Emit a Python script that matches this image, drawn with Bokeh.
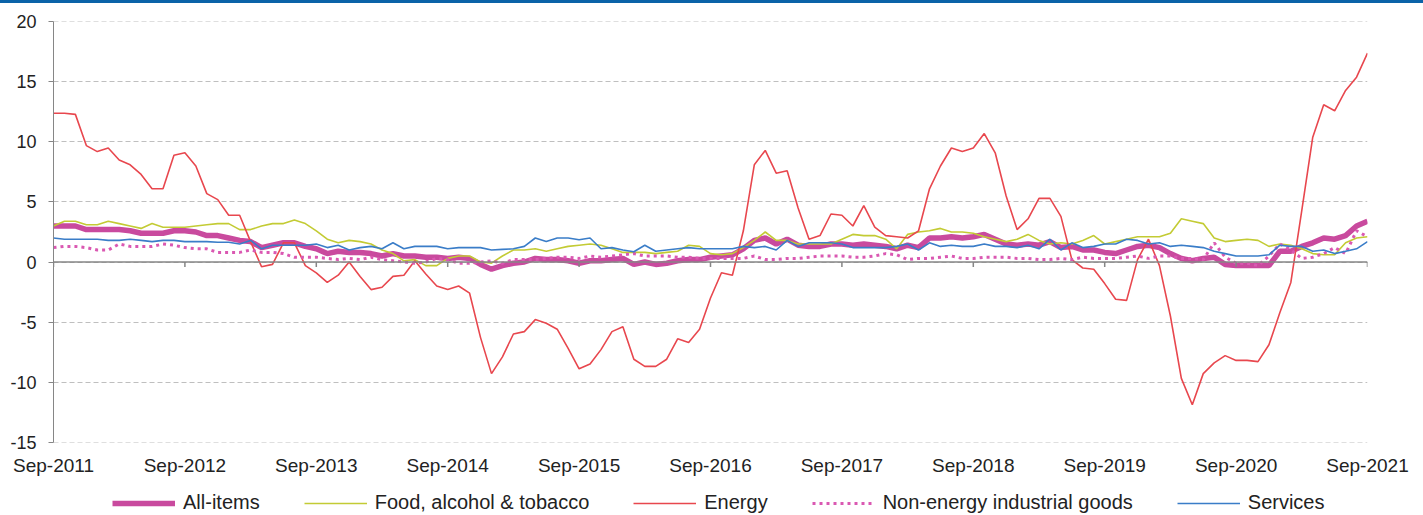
from bokeh.plotting import figure
from bokeh.models import Range1d, FixedTicker, Legend, LegendItem, Span, Div
from bokeh.layouts import column
from bokeh.embed import file_html
from bokeh.resources import INLINE

# ---------------- data (annual rate of change, %) ----------------
tick_labels = ["Sep-2011", "Sep-2012", "Sep-2013", "Sep-2014", "Sep-2015", "Sep-2016",
               "Sep-2017", "Sep-2018", "Sep-2019", "Sep-2020", "Sep-2021"]

series_names = ["All-items", "Food, alcohol & tobacco", "Energy",
                "Non-energy industrial goods", "Services"]

all_items = [3.0, 3.0, 3.0, 2.7,
             2.7, 2.7, 2.7, 2.6, 2.4, 2.4, 2.4, 2.6, 2.6, 2.5, 2.2, 2.2,
             2.0, 1.8, 1.7, 1.2, 1.4, 1.6, 1.6, 1.3, 1.1, 0.7, 0.9, 0.8,
             0.8, 0.7, 0.5, 0.7, 0.5, 0.5, 0.4, 0.4, 0.3, 0.4, 0.3, -0.2,
             -0.6, -0.3, -0.1, 0.0, 0.3, 0.2, 0.2, 0.1, -0.1, 0.1, 0.1, 0.2,
             0.3, -0.2, 0.0, -0.2, -0.1, 0.1, 0.2, 0.2, 0.4, 0.5, 0.6, 1.1,
             1.8, 2.0, 1.5, 1.9, 1.4, 1.3, 1.3, 1.5, 1.5, 1.4, 1.5, 1.4,
             1.3, 1.1, 1.4, 1.2, 2.0, 2.0, 2.1, 2.0, 2.1, 2.3, 1.9, 1.5,
             1.4, 1.5, 1.4, 1.7, 1.2, 1.3, 1.0, 1.0, 0.8, 0.7, 1.0, 1.3,
             1.4, 1.2, 0.7, 0.3, 0.1, 0.3, 0.4, -0.2, -0.3, -0.3, -0.3, -0.3,
             0.9, 0.9, 1.3, 1.6, 2.0, 1.9, 2.2, 3.0, 3.4]

food = [3.0, 3.4, 3.4, 3.1,
        3.1, 3.4, 3.2, 3.0, 2.8, 3.2, 2.9, 2.9, 2.9, 3.0, 3.1, 3.2,
        3.2, 2.7, 2.7, 3.0, 3.2, 3.2, 3.5, 3.2, 2.6, 1.9, 1.6, 1.8,
        1.7, 1.5, 1.0, 0.7, 0.1, 0.2, -0.3, -0.3, 0.3, 0.5, 0.5, 0.0,
        -0.1, 0.5, 1.0, 1.0, 1.1, 0.9, 1.1, 1.3, 1.4, 1.5, 1.4, 1.1,
        0.8, 0.8, 0.8, 0.7, 0.8, 0.9, 1.4, 1.3, 0.7, 0.6, 0.7, 1.2,
        1.8, 2.5, 1.8, 1.8, 1.5, 1.5, 1.5, 1.5, 1.9, 2.3, 2.2, 2.2,
        1.9, 1.1, 2.3, 2.5, 2.6, 2.8, 2.5, 2.5, 2.4, 2.1, 1.9, 1.7,
        1.9, 2.3, 1.8, 1.5, 1.6, 1.5, 1.8, 2.2, 1.5, 1.7, 1.9, 2.1,
        2.1, 2.1, 2.4, 3.6, 3.4, 3.2, 2.0, 1.7, 1.8, 1.9, 1.8, 1.3,
        1.5, 1.4, 1.1, 0.7, 0.6, 0.6, 1.6, 2.0, 2.1]

energy = [12.4, 12.4, 12.3, 9.7,
          9.2, 9.5, 8.5, 8.1, 7.3, 6.1, 6.1, 8.9, 9.1, 8.0, 5.7, 5.2,
          3.9, 3.9, 1.7, -0.4, -0.2, 1.6, 1.6, -0.3, -0.9, -1.7, -1.1, 0.0,
          -1.2, -2.3, -2.1, -1.2, -1.1, 0.1, -1.0, -2.0, -2.3, -2.0, -2.6, -6.3,
          -9.3, -7.9, -6.0, -5.8, -4.8, -5.1, -5.6, -7.2, -8.9, -8.5, -7.3, -5.8,
          -5.4, -8.1, -8.7, -8.7, -8.1, -6.4, -6.7, -5.6, -3.0, -0.9, -1.1, 2.6,
          8.1, 9.3, 7.4, 7.6, 4.5, 1.9, 2.2, 4.0, 3.9, 3.0, 4.7, 2.9,
          2.2, 2.1, 2.0, 2.6, 6.1, 8.0, 9.5, 9.2, 9.5, 10.7, 9.1, 5.5,
          2.7, 3.6, 5.3, 5.3, 3.8, 0.2, -0.5, -0.6, -1.8, -3.1, -3.2, 0.2,
          1.9, -0.3, -4.5, -9.7, -11.9, -9.3, -8.4, -7.8, -8.2, -8.2, -8.3, -6.9,
          -4.2, -1.7, 4.3, 10.4, 13.1, 12.6, 14.3, 15.4, 17.4]

neig = [1.2, 1.3, 1.3, 1.2,
        1.0, 1.0, 1.5, 1.3, 1.3, 1.3, 1.5, 1.4, 1.2, 1.1, 1.1, 0.8,
        0.8, 0.8, 1.0, 0.8, 0.8, 0.7, 0.4, 0.4, 0.4, 0.3, 0.2, 0.3,
        0.2, 0.4, 0.2, 0.1, 0.0, -0.1, 0.0, 0.3, 0.2, -0.1, -0.1, 0.0,
        0.1, -0.1, 0.2, 0.2, 0.2, 0.3, 0.4, 0.4, 0.3, 0.5, 0.4, 0.5,
        0.6, 0.7, 0.5, 0.5, 0.5, 0.4, 0.4, 0.3, 0.3, 0.3, 0.3, 0.3,
        0.5, 0.2, 0.2, 0.3, 0.3, 0.4, 0.5, 0.5, 0.5, 0.4, 0.4, 0.5,
        0.7, 0.6, 0.2, 0.3, 0.3, 0.4, 0.5, 0.3, 0.3, 0.4, 0.4, 0.4,
        0.3, 0.3, 0.2, 0.2, 0.3, 0.2, 0.4, 0.3, 0.3, 0.3, 0.4, 0.5,
        0.3, 0.5, 0.5, 0.3, 0.3, 0.2, 1.6, 0.4, -0.1, -0.1, -0.3, 0.5,
        1.5, 1.0, 0.3, 0.4, 0.7, 1.2, 0.7, 2.6, 2.1]

services = [2.0, 1.9, 1.9, 1.9,
            1.9, 1.8, 1.8, 1.9, 1.8, 1.7, 1.8, 1.8, 1.7, 1.7, 1.7, 1.65,
            1.65, 1.5, 1.8, 1.1, 1.4, 1.4, 1.4, 1.4, 1.5, 1.2, 1.4, 1.0,
            1.2, 1.3, 1.1, 1.6, 1.1, 1.3, 1.3, 1.3, 1.1, 1.2, 1.2, 1.2,
            1.0, 1.05, 1.1, 1.3, 2.0, 1.7, 2.0, 2.0, 1.85, 2.0, 1.1, 1.2,
            1.0, 0.85, 1.4, 0.9, 1.0, 1.1, 1.2, 1.1, 1.1, 1.1, 1.1, 1.3,
            1.2, 1.3, 1.0, 1.8, 1.3, 1.6, 1.6, 1.6, 1.5, 1.2, 1.2, 1.2,
            1.2, 1.3, 1.5, 1.0, 1.6, 1.3, 1.4, 1.3, 1.3, 1.5, 1.3, 1.3,
            1.2, 1.4, 1.1, 1.9, 1.0, 1.6, 1.2, 1.3, 1.5, 1.5, 1.9, 1.8,
            1.5, 1.6, 1.3, 1.4, 1.3, 1.2, 0.9, 0.7, 0.5, 0.5, 0.5, 0.6,
            1.4, 1.3, 1.3, 0.9, 1.0, 0.7, 0.9, 1.1, 1.7]

y_ticks = [-15, -10, -5, 0, 5, 10, 15, 20]

# ---------------- styles ----------------
FONT = "Liberation Sans"
TXT = "#222222"
AXIS = "#868686"
styles = [dict(line_color="#C94A9E", line_width=5.5),
          dict(line_color="#C3CB34", line_width=1.6),
          dict(line_color="#E8474E", line_width=1.6),
          dict(line_color="#DA58B2", line_width=3, line_dash="3 4"),
          dict(line_color="#3A7DC8", line_width=1.6)]
series = [all_items, food, energy, neig, services]

# ---------------- main figure ----------------
months = list(range(len(all_items)))
tick_pos = [12 * i for i in range(len(tick_labels))]

p = figure(width=1423, height=482,
           x_range=Range1d(0, months[-1]),
           y_range=Range1d(y_ticks[0] - 0.04, y_ticks[-1] + 0.04),
           output_backend="svg", toolbar_location=None,
           min_border_left=53, min_border_right=56, min_border_top=18, min_border_bottom=43)
p.outline_line_color = None
p.background_fill_color = "white"
p.border_fill_color = "white"

# y axis
p.yaxis.ticker = FixedTicker(ticks=y_ticks)
p.yaxis.major_label_overrides = {t: str(t) for t in y_ticks}
p.yaxis.axis_line_color = AXIS
p.yaxis.major_tick_line_color = AXIS
p.yaxis.major_tick_out = 5
p.yaxis.major_tick_in = 0
p.yaxis.minor_tick_line_color = None
p.yaxis.major_label_standoff = 12
p.yaxis.major_label_text_font = FONT
p.yaxis.major_label_text_font_size = "18px"
p.yaxis.major_label_text_color = TXT

# x axis (labels only; axis line drawn at zero)
p.xaxis.ticker = FixedTicker(ticks=tick_pos)
p.xaxis.major_label_overrides = {t: l for t, l in zip(tick_pos, tick_labels)}
p.xaxis.axis_line_color = None
p.xaxis.major_tick_line_color = None
p.xaxis.minor_tick_line_color = None
p.xaxis.major_tick_out = 0
p.xaxis.major_tick_in = 0
p.xaxis.major_label_standoff = 12
p.xaxis.major_label_text_font = FONT
p.xaxis.major_label_text_font_size = "19px"
p.xaxis.major_label_text_color = TXT

p.xgrid.visible = False
p.ygrid.grid_line_color = "#BFBFBF"
p.ygrid.grid_line_dash = "5 3"
p.ygrid.grid_line_width = 1

for vals, st in zip(series, styles):
    p.line(months, vals, **st)

# zero axis line + year ticks
p.add_layout(Span(location=0, dimension="width", line_color=AXIS, line_width=1.5))
p.segment(x0=tick_pos, y0=[0] * len(tick_pos), x1=tick_pos, y1=[-0.42] * len(tick_pos),
          line_color=AXIS, line_width=1.5)

# ---------------- legend strip (frame aligned with main plot) ----------------
lg = figure(width=1423, height=30, x_range=Range1d(0, 1), y_range=Range1d(0, 1),
            output_backend="svg", toolbar_location=None,
            x_axis_location=None, y_axis_location=None,
            min_border_left=53, min_border_right=56, min_border_top=0, min_border_bottom=0)
lg.outline_line_color = None
lg.xgrid.visible = False
lg.ygrid.visible = False
nan = float("nan")
lg_renderers = [lg.line([nan], [nan], **st) for st in styles]

legend = Legend(items=[LegendItem(label=n, renderers=[r]) for n, r in
                       zip(series_names, lg_renderers)],
                orientation="horizontal", location=(59, 1),
                spacing=44, glyph_width=63, glyph_height=20, label_standoff=8,
                padding=0, margin=0, border_line_color=None, background_fill_alpha=0,
                label_text_font=FONT, label_text_font_size="20px", label_text_color=TXT)
lg.add_layout(legend, "center")

bar = Div(text="", width=1423, height=3, margin=(0, 0, 0, 0),
          styles={"background-color": "#0a63a8"})
layout = column(bar, p, lg, spacing=0,
                styles={"position": "absolute", "left": "0px", "top": "0px"})

open("out.html", "w").write(file_html(layout, INLINE))
